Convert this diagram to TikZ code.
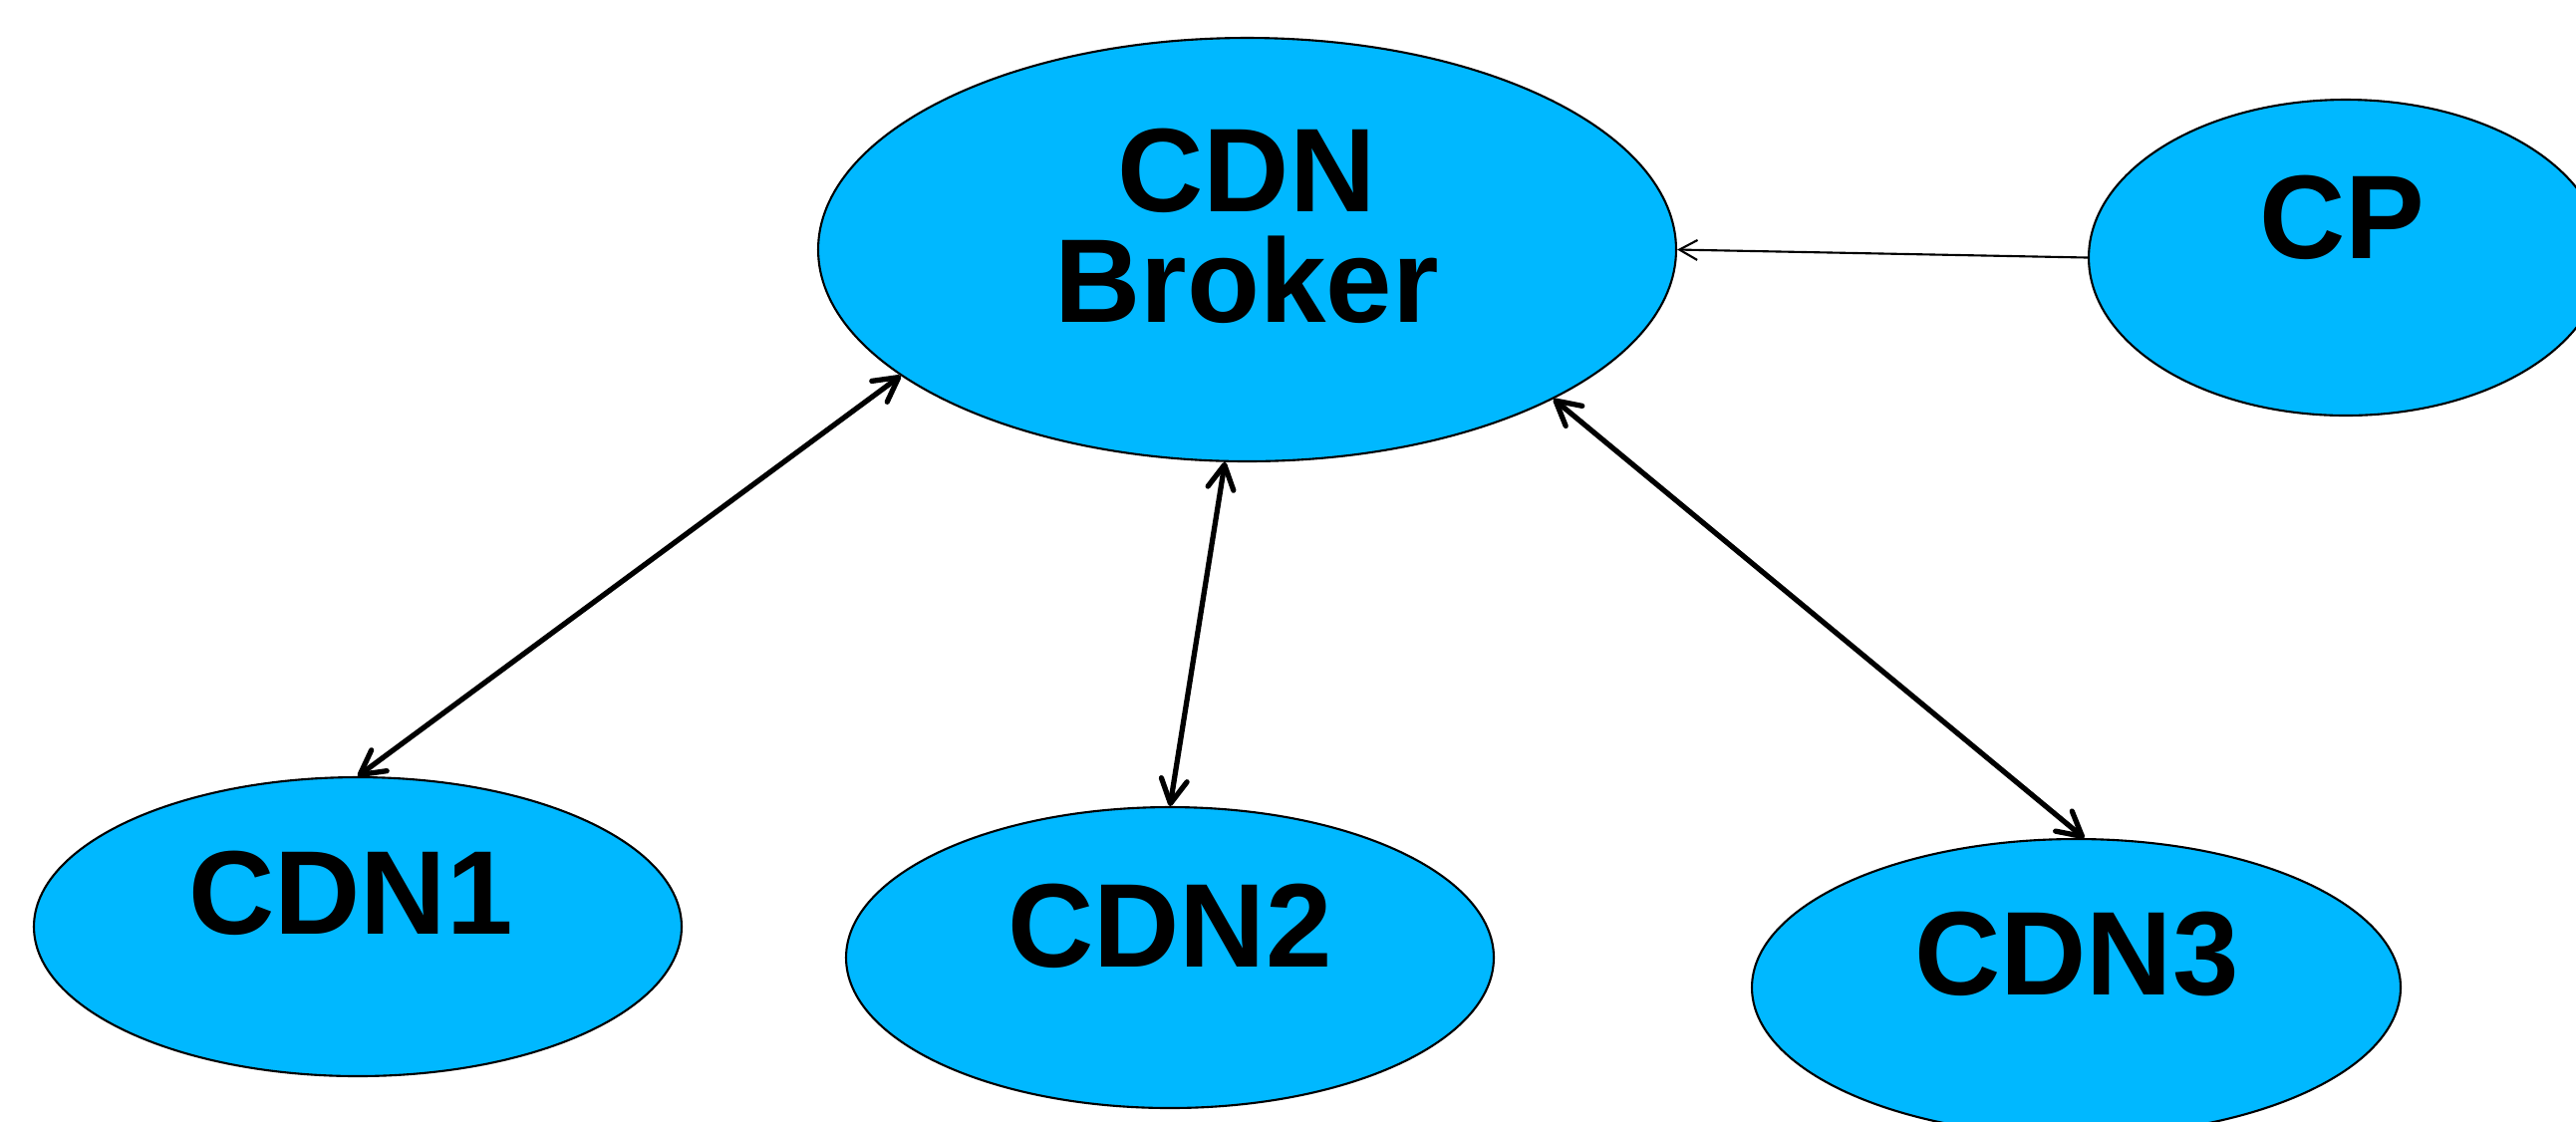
\documentclass[tikz,border=0pt]{standalone}
\usepackage{fontspec}
\setmainfont{Liberation Sans}
\usetikzlibrary{shapes.geometric,arrows.meta}
\definecolor{cdnblue}{RGB}{0,184,255}

\begin{document}
\begin{tikzpicture}[scale=0.1]
	\tikzstyle{every node}+=[inner sep=0pt]
	\tikzstyle{site}=[ellipse, draw=black, line width=0.6pt, fill=cdnblue]
	\tikzstyle{tag}=[font=\bfseries\fontsize{34}{31.6}\selectfont, align=center]
	\tikzstyle{link}=[line width=1.5pt, <->, >={Straight Barb[length=2.4mm,width=2.6mm,round]}]
	\tikzstyle{feed}=[line width=0.6pt, ->, >={Straight Barb[length=1.8mm,width=2mm]}]
	\useasboundingbox (0,0) rectangle (258.5,-112.5);
	% sites
	\node [site, minimum width=86.1mm, minimum height=42.5mm] (broker) at (125.15,-25.05) {};
	\node [site, minimum width=51.6mm, minimum height=31.7mm] (cp) at (235.4,-25.85) {};
	\node [site, minimum width=65.0mm, minimum height=30.0mm] (cdn1) at (35.9,-93.0) {};
	\node [site, minimum width=65.0mm, minimum height=30.2mm] (cdn2) at (117.4,-96.1) {};
	\node [site, minimum width=65.1mm, minimum height=29.8mm] (cdn3) at (208.35,-99.1) {};
	% names
	\node [tag] (brokerText) at (125.1,-22.7) {CDN\\Broker};
	\node [tag] (cpText) at (235.0,-21.8) {CP};
	\node [tag] (cdn1Text) at (35.2,-89.6) {CDN1};
	\node [tag] (cdn2Text) at (117.4,-92.9) {CDN2};
	\node [tag] (cdn3Text) at (208.4,-95.7) {CDN3};
	% links
	\draw [link] (broker.200) -- (cdn1.90);
	\draw [link] (broker.264) -- (cdn2.90);
	\draw [link] (broker.334) -- (cdn3.87);
	\draw [feed] (cp.west) -- (broker.east);
\end{tikzpicture}
\end{document}
